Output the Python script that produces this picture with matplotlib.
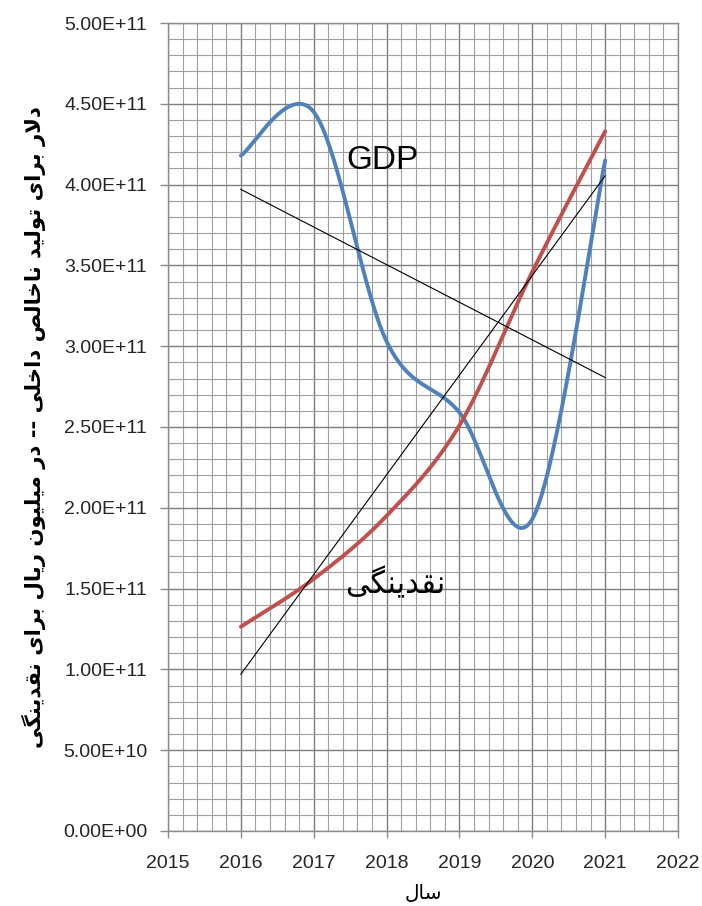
import numpy as np
import matplotlib
matplotlib.use("Agg")
import matplotlib.pyplot as plt
from matplotlib.ticker import MultipleLocator, FuncFormatter

# ---- data -------------------------------------------------------------
years = [2016, 2017, 2018, 2019, 2020, 2021]
gdp_usd = [4.18e11, 4.45e11, 3.03e11, 2.59e11, 1.93e11, 4.15e11]
liquidity = [1.264e11, 1.56e11, 1.95e11, 2.51e11, 3.46e11, 4.33e11]

x_ticks = [2015, 2016, 2017, 2018, 2019, 2020, 2021, 2022]

gdp_label = "GDP"
liquidity_label = "نقدینگی"
x_title = "سال"
y_title = "دلار برای تولید ناخالص داخلی -- در میلیون ریال برای نقدینگی"

# ---- simple Arabic/Persian shaping (matplotlib has no text shaping) ----
FORMS = {  # isolated, final, initial, medial
    "ا": ("\uFE8D", "\uFE8E", None, None),
    "ب": ("\uFE8F", "\uFE90", "\uFE91", "\uFE92"),
    "ت": ("\uFE95", "\uFE96", "\uFE97", "\uFE98"),
    "خ": ("\uFEA5", "\uFEA6", "\uFEA7", "\uFEA8"),
    "د": ("\uFEA9", "\uFEAA", None, None),
    "ر": ("\uFEAD", "\uFEAE", None, None),
    "س": ("\uFEB1", "\uFEB2", "\uFEB3", "\uFEB4"),
    "ص": ("\uFEB9", "\uFEBA", "\uFEBB", "\uFEBC"),
    "ق": ("\uFED5", "\uFED6", "\uFED7", "\uFED8"),
    "ل": ("\uFEDD", "\uFEDE", "\uFEDF", "\uFEE0"),
    "م": ("\uFEE1", "\uFEE2", "\uFEE3", "\uFEE4"),
    "ن": ("\uFEE5", "\uFEE6", "\uFEE7", "\uFEE8"),
    "و": ("\uFEED", "\uFEEE", None, None),
    "ی": ("\uFBFC", "\uFBFD", "\uFBFE", "\uFBFF"),
    "گ": ("\uFB92", "\uFB93", "\uFB94", "\uFB95"),
}


def dual(c):
    return c in FORMS and FORMS[c][2] is not None


def shape(text):
    out = []
    i = 0
    n = len(text)
    while i < n:
        c = text[i]
        if c not in FORMS:
            out.append(c)
            i += 1
            continue
        prev = text[i - 1] if i > 0 else ""
        joins_prev = dual(prev)
        if c == "ل" and i + 1 < n and text[i + 1] == "ا":
            out.append("\uFEFC" if joins_prev else "\uFEFB")
            i += 2
            continue
        nxt = text[i + 1] if i + 1 < n else ""
        joins_next = dual(c) and nxt in FORMS
        iso, fin, ini, med = FORMS[c]
        if joins_prev and joins_next:
            out.append(med)
        elif joins_prev:
            out.append(fin)
        elif joins_next:
            out.append(ini)
        else:
            out.append(iso)
        i += 1
    return "".join(reversed(out))


# ---- smooth curve through points (cubic Bezier, Catmull-Rom tangents) --
def smooth(xs, ys, steps=60):
    xs = np.asarray(xs, float)
    ys = np.asarray(ys, float)
    px = np.concatenate([[xs[0]], xs, [xs[-1]]])
    py = np.concatenate([[ys[0]], ys, [ys[-1]]])
    t = np.linspace(0, 1, steps)
    cx, cy = [], []
    for k in range(1, len(px) - 2):
        x0, y0 = px[k], py[k]
        x3, y3 = px[k + 1], py[k + 1]
        x1 = x0 + (px[k + 1] - px[k - 1]) / 6
        y1 = y0 + (py[k + 1] - py[k - 1]) / 6
        x2 = x3 - (px[k + 2] - px[k]) / 6
        y2 = y3 - (py[k + 2] - py[k]) / 6
        b0 = (1 - t) ** 3
        b1 = 3 * (1 - t) ** 2 * t
        b2 = 3 * (1 - t) * t ** 2
        b3 = t ** 3
        cx.append(b0 * x0 + b1 * x1 + b2 * x2 + b3 * x3)
        cy.append(b0 * y0 + b1 * y1 + b2 * y2 + b3 * y3)
    return np.concatenate(cx), np.concatenate(cy)


# ---- figure -----------------------------------------------------------
fig = plt.figure(figsize=(7.02, 9.06), dpi=100)
ax = fig.add_axes([0.2393, 0.0828, 0.7265, 0.8918])

ax.set_xlim(x_ticks[0], x_ticks[-1])
ax.set_ylim(0, 5e11)
ax.set_xticks(x_ticks)
ax.xaxis.set_minor_locator(MultipleLocator(0.2))
ax.yaxis.set_major_locator(MultipleLocator(5e10))
ax.yaxis.set_minor_locator(MultipleLocator(1e10))
ax.yaxis.set_major_formatter(FuncFormatter(lambda v, _: f"{v:.2E}"))
ax.xaxis.set_major_formatter(FuncFormatter(lambda v, _: f"{int(round(v))}"))

ax.grid(which="major", color="#7f7f7f", linewidth=1.0)
ax.grid(which="minor", color="#a0a0a0", linewidth=0.8)
ax.set_axisbelow(True)

for s in ax.spines.values():
    s.set_color("#8c8c8c")
    s.set_linewidth(1.0)

ax.tick_params(axis="both", which="major", width=1.0, color="#8c8c8c",
               labelsize=14, labelcolor="#262626", labelfontfamily="Liberation Sans")
ax.tick_params(axis="y", which="major", length=6, pad=9)
ax.tick_params(axis="x", which="major", length=5, pad=12)
ax.tick_params(axis="both", which="minor", length=0)

# smoothed series
gx, gy = smooth(years, gdp_usd)
ax.plot(gx, gy, color="#4F81BD", linewidth=2.8, solid_capstyle="round", zorder=3)
lx, ly = smooth(years, liquidity)
ax.plot(lx, ly, color="#C0504D", linewidth=2.8, solid_capstyle="round", zorder=3)

# linear trend lines
yr = np.asarray(years, float)
for series in (gdp_usd, liquidity):
    coef = np.polyfit(yr, series, 1)
    ax.plot(yr[[0, -1]], np.polyval(coef, yr[[0, -1]]), color="black",
            linewidth=0.8, zorder=4)

# in-plot labels
ax.text(2017.95, 4.15e11, gdp_label, fontsize=24, family="Liberation Sans",
        ha="center", va="center", color="black", zorder=5)
ax.text(2018.12, 1.535e11, shape(liquidity_label), fontsize=22, family="DejaVu Sans",
        ha="center", va="center", color="black", zorder=5)

ax.set_xlabel(shape(x_title), fontsize=14.5, family="DejaVu Sans", labelpad=9)
ax.set_ylabel(shape(y_title), fontsize=15.3, family="DejaVu Sans",
              fontweight="bold", labelpad=12)

fig.savefig("out.png", dpi=100, facecolor="white")
